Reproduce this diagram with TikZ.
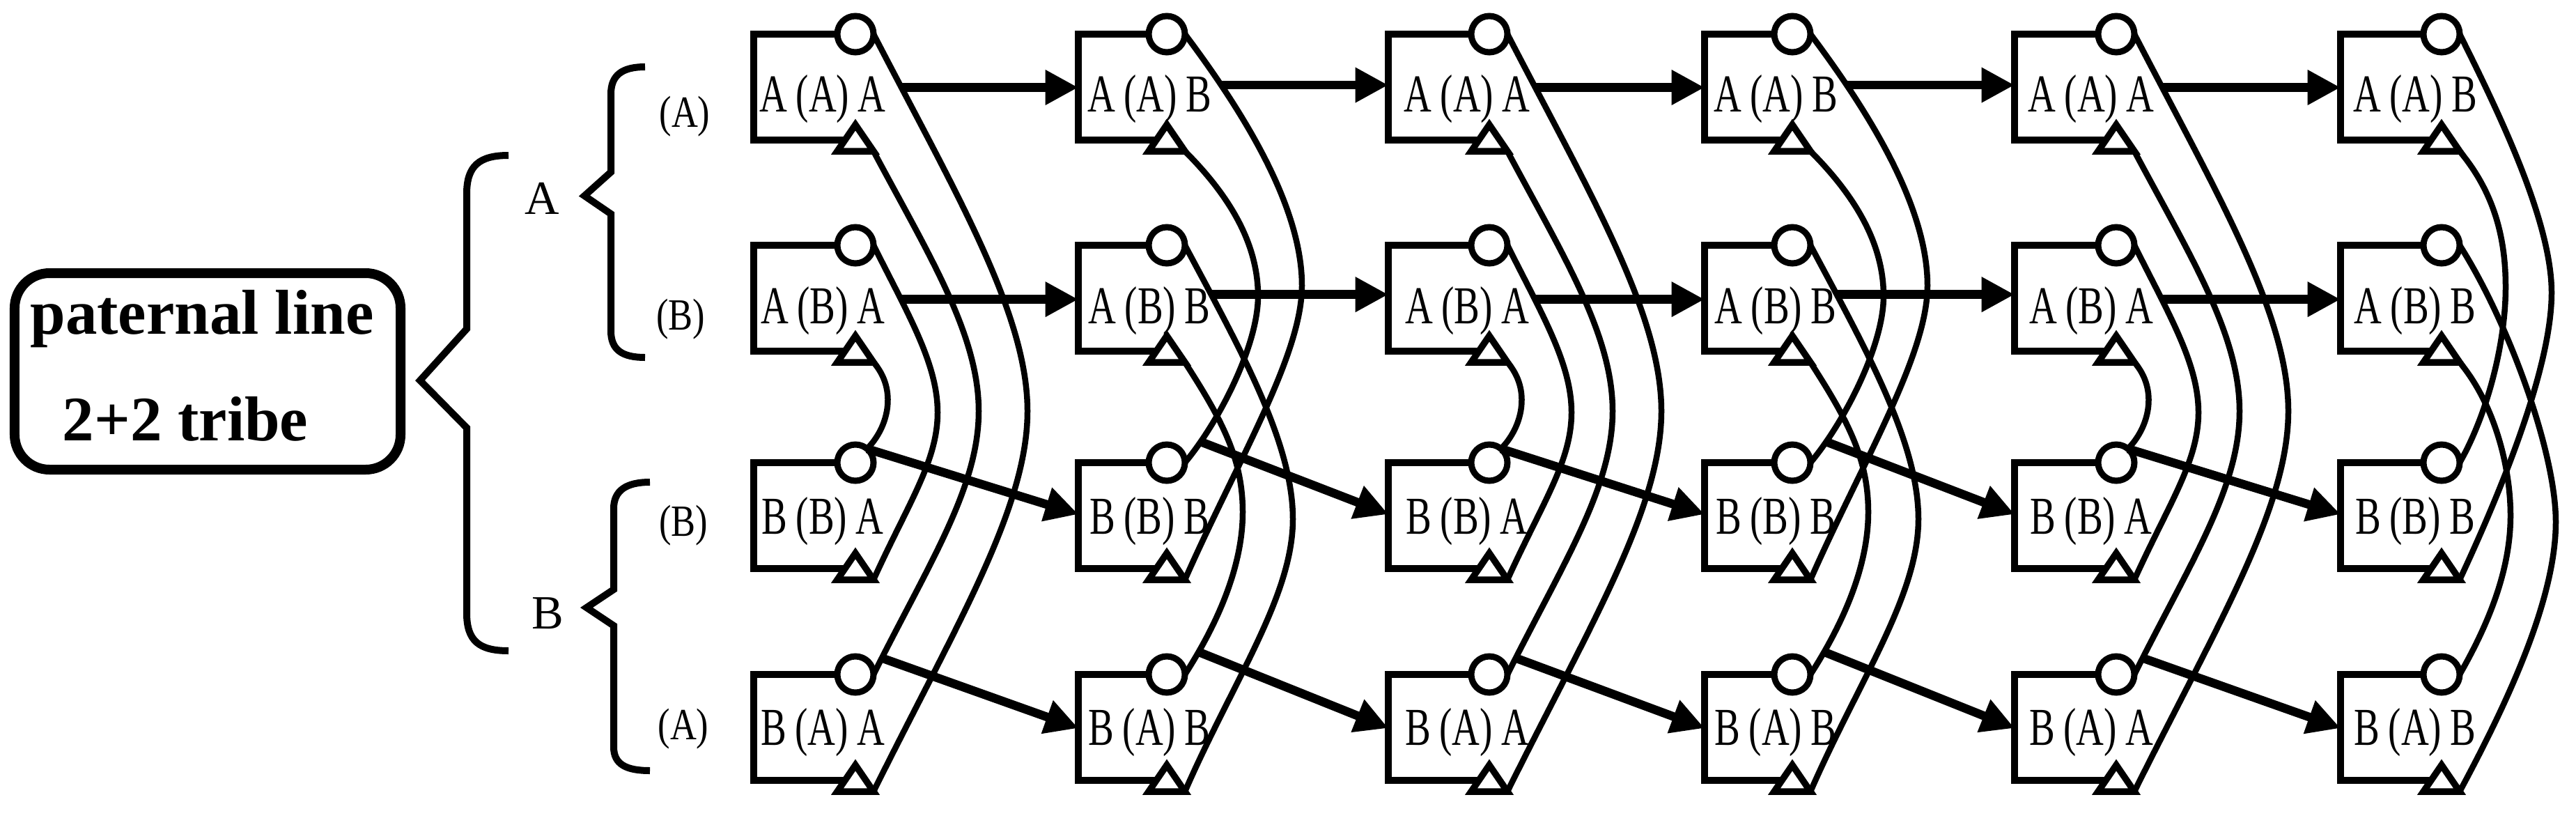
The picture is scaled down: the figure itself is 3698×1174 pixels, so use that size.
\documentclass[tikz,border=0pt]{standalone}
\usepackage{fontspec}
\setmainfont{Liberation Serif}
\newfontfamily\condfont[FakeStretch=0.72]{Liberation Serif}
\newfontfamily\labfont[FakeStretch=0.82]{Liberation Serif}
\usetikzlibrary{arrows.meta,calc}

\tikzset{
  ln/.style={line width=1.9pt},
  cur/.style={line width=1.7pt},
  arr/.style={line width=2.5pt,-{Triangle[length=9.5pt,width=9.5pt]}},
  brc/.style={line width=2pt},
  circ/.style={circle,draw,line width=1.8pt,minimum size=10.4pt,inner sep=0pt,outer sep=0pt},
  boxtxt/.style={font={\condfont\fontsize{15.3pt}{16pt}\selectfont},inner sep=0pt,anchor=base},
  lab/.style={font={\labfont\fontsize{12.8pt}{13pt}\selectfont},inner sep=0pt},
  biglab/.style={font={\fontsize{13.7pt}{14pt}\selectfont},inner sep=0pt},
  ttl/.style={font={\bfseries\fontsize{18.2pt}{20pt}\selectfont},inner sep=0pt,anchor=base},
}

% nested pattern (columns 1,3,5)
\newcommand\curvesA[1]{%
  \draw[cur] (o-#1-1.east) .. controls +(118,228) and +(0,-140) .. ($(o-#1-1)+(247,541)$) coordinate[pos=0.115] (s-#1-1)
     .. controls +(0,140) and +(118,-238) .. (v-#1-4);
  \draw[cur] (v-#1-1) .. controls +(80,150) and +(0,-110) .. ($(o-#1-1)+(177,541)$)
     .. controls +(0,110) and +(80,-160) .. (o-#1-4.east) coordinate[pos=0.95] (s-#1-4);
  \draw[cur] (o-#1-2.east) .. controls +(50,100) and +(0,-70) .. ($(o-#1-2)+(118,240)$) coordinate[pos=0.28] (s-#1-2)
     .. controls +(0,70) and +(50,-110) .. (v-#1-3);
  \coordinate (s-#1-3) at (o-#1-3.50);
  \draw[cur] (v-#1-2) .. controls +(35,40) and +(30,-30) .. (s-#1-3);
}
% crossing pattern (columns 2,4)
\newcommand\curvesB[1]{%
  \draw[cur] (o-#1-1.east) .. controls +(90,120) and +(0,-110) .. ($(o-#1-1)+(194,361)$) coordinate[pos=0.2] (s-#1-1)
     .. controls +(0,100) and +(75,-170) .. (v-#1-3);
  \draw[cur] (v-#1-1) .. controls +(70,70) and +(0,-70) .. ($(o-#1-1)+(131,376)$)
     .. controls +(0,70) and +(50,-60) .. (o-#1-3.east) coordinate[pos=0.85] (s-#1-3);
  \draw[cur] (o-#1-2.east) .. controls +(80,150) and +(0,-110) .. ($(o-#1-2)+(181,393)$) coordinate[pos=0.16] (s-#1-2)
     .. controls +(0,110) and +(70,-160) .. (v-#1-4);
  \draw[cur] (v-#1-2) .. controls +(55,85) and +(0,-75) .. ($(o-#1-2)+(109,383)$)
     .. controls +(0,80) and +(45,-70) .. (o-#1-4.east) coordinate[pos=0.85] (s-#1-4);
}
% crossing pattern, last column (narrower)
\newcommand\curvesC[1]{%
  \draw[cur] (o-#1-1.east) .. controls +(60,120) and +(0,-100) .. ($(o-#1-1)+(158,371)$)
     .. controls +(0,100) and +(70,-150) .. (v-#1-3);
  \draw[cur] (v-#1-1) .. controls +(50,60) and +(0,-70) .. ($(o-#1-1)+(92,363)$)
     .. controls +(0,80) and +(40,-70) .. (o-#1-3.east);
  \draw[cur] (o-#1-2.east) .. controls +(70,110) and +(0,-100) .. ($(o-#1-2)+(164,397)$)
     .. controls +(0,110) and +(70,-130) .. (v-#1-4);
  \draw[cur] (v-#1-2) .. controls +(50,60) and +(0,-70) .. ($(o-#1-2)+(99,388)$)
     .. controls +(0,80) and +(40,-70) .. (o-#1-4.east);
}

\begin{document}
\begin{tikzpicture}[x=0.2pt,y=-0.2pt]
\useasboundingbox (0,0) rectangle (3698,1174);

% left part
\node[draw,line width=2.8pt,rounded corners=10pt,minimum width=110.8pt,minimum height=56.4pt,inner sep=0pt] (pbox) at (298,533) {};
\node[ttl] (pl1) at (290,479) {paternal line};
\node[ttl] (pl2) at (266,632) {2+2 tribe};

\draw[brc] (730,223) .. controls (688,223) and (670,238) .. (670,278) -- (670,472) -- (603,546) -- (670,614)
   -- (670,880) .. controls (670,920) and (688,934) .. (730,934);
\draw[brc] (926,96) .. controls (893,96) and (877,108) .. (877,135) -- (877,247) -- (839,281) -- (877,307)
   -- (877,475) .. controls (877,502) and (893,513) .. (926,513);
\draw[brc] (933,692) .. controls (899,692) and (881,704) .. (881,730) -- (881,846) -- (842,872) -- (881,898)
   -- (881,1072) .. controls (881,1097) and (899,1106) .. (933,1106);

\node[biglab] (lA) at (778,285) {A};
\node[biglab] (lB) at (786,880) {B};
\node[lab] (lAA) at (983,167) {(A)};
\node[lab] (lAB) at (977,458) {(B)};
\node[lab] (lBB) at (981,754) {(B)};
\node[lab] (lBA) at (981,1046) {(A)};

% boxes
\foreach \col/\Lx/\Cx/\tx/\lastl in {1/1082/1228/1181/A,2/1548/1675/1650/B,3/1993/2138/2106/A,4/2447/2573/2549/B,5/2892/3038/3002/A,6/3360/3505/3467/B}{
  \foreach \row/\Ty/\by/\yin/\fa/\fb in {1/49/160/125/A/A,2/352/464/430/A/B,3/664/766/738/B/B,4/968/1069/1045/B/A}{
    \node[circ] (o-\col-\row) at (\Cx,\Ty) {};
    \draw[ln] (o-\col-\row.west) -- (\Lx,\Ty) -- (\Lx,\Ty+152) -- (\Cx-15,\Ty+152);
    \draw[ln] (\Cx-26,\Ty+168) -- (\Cx,\Ty+130) -- (\Cx+26,\Ty+168) -- cycle;
    \coordinate (v-\col-\row) at (\Cx+26,\Ty+168);
    \coordinate (b-\col-\row) at (\Lx,\yin);
    \node[boxtxt] (t-\col-\row) at (\tx,\by) {\fa\kern2.5pt(\fb)\kern2.5pt\lastl};
  }
}

% genealogical curves
\curvesA{1}
\curvesB{2}
\curvesA{3}
\curvesB{4}
\curvesA{5}
\curvesC{6}

% arrows between columns
\foreach \col in {1,...,5}{
  \pgfmathtruncatemacro\cn{\col+1}
  \draw[arr] (s-\col-1) -- (s-\col-1 -| b-\cn-1);
  \draw[arr] (s-\col-2) -- (s-\col-2 -| b-\cn-2);
  \draw[arr] (s-\col-3) -- (b-\cn-3);
  \draw[arr] (s-\col-4) -- (b-\cn-4);
}
\end{tikzpicture}
\end{document}
